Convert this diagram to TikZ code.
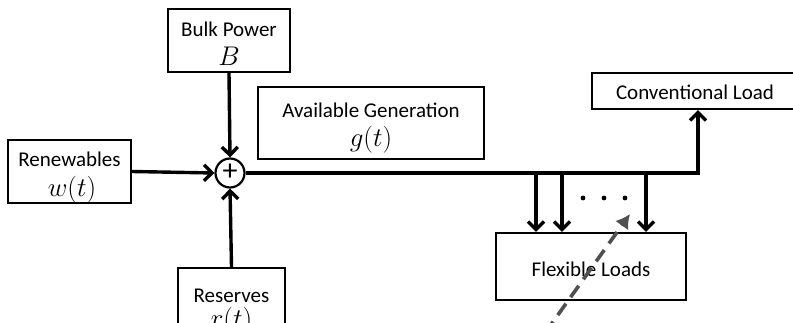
\RequirePackage{fix-cm}
\documentclass[tikz,border=0pt]{standalone}
\usepackage{fontspec}
\setmainfont{Carlito}
\usetikzlibrary{arrows.meta}
\begin{document}
\begin{tikzpicture}[x=1pt,y=-1pt,
  box/.style={draw=black,line width=2.2pt,fill=white,inner sep=0pt},
  lbl/.style={font=\fontsize{21}{24}\selectfont,inner sep=0pt,anchor=base},
  mth/.style={font=\fontsize{27}{30}\selectfont,inner sep=0pt,anchor=base},
  flow/.style={line width=3.4pt,-{Straight Barb[length=8pt,width=16pt,line width=3.4pt]}},
  ctrl/.style={line width=3.6pt,draw={rgb,255:red,80;green,80;blue,80},dash pattern=on 14pt off 8pt,
    -{Latex[length=14pt,width=16pt]}}]
\useasboundingbox (0,0) rectangle (793,323);
\clip (0,0) rectangle (793,323);
% boxes
\node[box,minimum width=122pt,minimum height=63pt] (bulk) at (229,40.5) {};
\node[box,minimum width=226pt,minimum height=72pt] (avail) at (371,123) {};
\node[box,minimum width=123pt,minimum height=63pt] (renew) at (69.5,171.5) {};
\node[box,minimum width=107pt,minimum height=80pt] (res) at (231.5,308) {};
\node[box,minimum width=216pt,minimum height=36pt] (conv) at (700,91) {};
\node[box,minimum width=190pt,minimum height=67pt] (flex) at (591,266.5) {};
\node[draw=black,line width=2.2pt,circle,minimum size=29pt,inner sep=0pt,fill=white] (sum) at (230,173) {};
% texts
\node[lbl] (bulkt) at (229,37) {Bulk Power};
\node[mth] (bulkm) at (229,66) {$B$};
\node[lbl] (availt) at (371,118) {Available Generation};
\node[mth] (availm) at (371,147) {$g(t)$};
\node[lbl] (renewt) at (69.5,167) {Renewables};
\node[mth] (renewm) at (72,197) {$w(t)$};
\node[lbl] (rest) at (231.5,302) {Reserves};
\node[mth] (resm) at (231.5,327) {$r(t)$};
\node[lbl] (convt) at (695,100) {Conventional Load};
\node[lbl] (flext) at (591,277) {Flexible Loads};
\node[font=\fontsize{30}{30}\selectfont,inner sep=0pt] (plus) at (230,172) {+};
% connectors
\draw[flow] (bulk.south) -- (sum.north);
\draw[flow] (renew.east) -- (sum.west);
\draw[flow] (res.north) -- (sum.south);
\coordinate (turn) at (698,173);
\draw[flow] (sum.east) -- (turn) -- (conv.south -| turn);
\coordinate (f1) at (536,173);
\coordinate (f2) at (562,173);
\coordinate (f3) at (646,173);
\draw[flow] (f1) -- (f1 |- flex.north);
\draw[flow] (f2) -- (f2 |- flex.north);
\draw[flow] (f3) -- (f3 |- flex.north);
\fill (583,198) circle (2.4pt) (604,198) circle (2.4pt) (625,198) circle (2.4pt);
\coordinate (dstart) at (545,333);
\coordinate (dend) at (630,214);
\draw[ctrl] (dstart) -- (dend);
\end{tikzpicture}
\end{document}
